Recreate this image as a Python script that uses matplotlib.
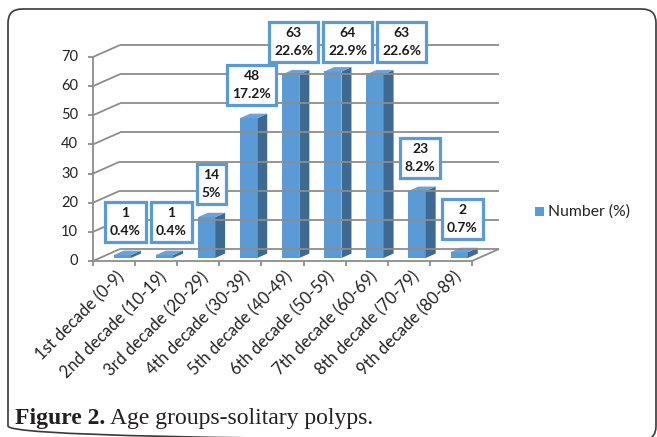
import matplotlib
matplotlib.use("Agg")
import matplotlib.pyplot as plt
from matplotlib.patches import Polygon, FancyBboxPatch, Rectangle

# data
categories = ["1st decade (0-9)", "2nd decade (10-19)", "3rd decade (20-29)",
              "4th decade (30-39)", "5th decade (40-49)", "6th decade (50-59)",
              "7th decade (60-69)", "8th decade (70-79)", "9th decade (80-89)"]
counts = [1, 1, 14, 48, 63, 64, 63, 23, 2]
percents = ["0.4%", "0.4%", "5%", "17.2%", "22.6%", "22.9%", "22.6%", "8.2%", "0.7%"]
y_ticks = [0, 10, 20, 30, 40, 50, 60, 70]

W, H = 657, 437
fig = plt.figure(figsize=(W / 100, H / 100), dpi=100)
plt.rcParams['font.family'] = ['Lato', 'DejaVu Sans']

# pixel-space axes for the frame, legend and caption
frame_ax = fig.add_axes([0, 0, 1, 1])
frame_ax.set_xlim(0, W)
frame_ax.set_ylim(H, 0)
frame_ax.axis("off")
frame_ax.add_patch(FancyBboxPatch((8, 9), 648, 431, boxstyle="round,pad=0,rounding_size=14",
                                  facecolor="none", edgecolor="#3a3a3a", linewidth=1.2))

# front plane of the pseudo 3D plot
x0, x1, ytop, ybot = 93, 472, 57, 261
ax = fig.add_axes([x0 / W, (H - ybot) / H, (x1 - x0) / W, (ybot - ytop) / H])
n = len(categories)
ax.set_xlim(0, n)
ax.set_ylim(0, 70)
ax.axis("off")

px_x = (x1 - x0) / n          # pixels per category
px_y = (ybot - ytop) / 70     # pixels per unit
DX = 27 / px_x                # depth offset in data units
DY = 12 / px_y

grid_c = "#8c8c8c"
kw = dict(color=grid_c, lw=1.3, clip_on=False, solid_capstyle="butt")
txt_c = "#222222"

for v in y_ticks:
    ax.plot([0, DX], [v, v + DY], **kw)
    ax.plot([DX, n + DX], [v + DY, v + DY], **kw)
    ax.plot([-5 / px_x, 0], [v, v], **kw)
    ax.text(-15 / px_x, v, str(v), ha="right", va="center", fontsize=10.5, color=txt_c)

# floor outline and axes
ax.plot([0, n], [0, 0], **kw)
ax.plot([n, n + DX], [0, DY], **kw)
ax.plot([0, 0], [0, 70], **kw)
for i in range(n + 1):
    ax.plot([i, i], [0, -5 / px_y], **kw)

front_c, side_c, top_c = "#5b9bd5", "#3e6a92", "#6aa3d8"
a, w, d0, dd = 0.33, 0.41, 0.25, 0.37
labels = []
for i, v in enumerate(counts):
    fx = i + a + d0 * DX
    fy = d0 * DY
    sx, sy = dd * DX, dd * DY
    ax.add_patch(Polygon([(fx, fy), (fx + w, fy), (fx + w, fy + v), (fx, fy + v)],
                         closed=True, facecolor=front_c, edgecolor="none", clip_on=False))
    ax.add_patch(Polygon([(fx + w, fy), (fx + w + sx, fy + sy), (fx + w + sx, fy + v + sy),
                          (fx + w, fy + v)],
                         closed=True, facecolor=side_c, edgecolor="none", clip_on=False))
    ax.add_patch(Polygon([(fx, fy + v), (fx + w, fy + v), (fx + w + sx, fy + v + sy),
                          (fx + sx, fy + v + sy)],
                         closed=True, facecolor=top_c, edgecolor="none", clip_on=False))
    ly = min(v + fy + 33 / px_y, 75)
    t = ax.text(fx + w / 2 + 3 / px_x, ly, f"{v}\n{percents[i]}", ha="center", va="center",
                fontsize=10, fontweight="bold", color="#1a1a1a", linespacing=1.6,
                multialignment="center",
                bbox=dict(boxstyle="square,pad=0.36", facecolor="white", edgecolor="#5b9bd5",
                          linewidth=2.3))
    labels.append(t)

# push data labels right when they would overlap the previous one
fig.canvas.draw()
renderer = fig.canvas.get_renderer()
prev = None
for t in labels:
    bb = t.get_bbox_patch().get_window_extent(renderer)
    if prev is not None and bb.y0 < prev.y1 and bb.y1 > prev.y0 and bb.x0 < prev.x1 + 5:
        shift = prev.x1 + 5 - bb.x0
        x, y = t.get_position()
        t.set_position((x + shift / px_x, y))
        fig.canvas.draw()
        bb = t.get_bbox_patch().get_window_extent(renderer)
    prev = bb

# rotated category labels
for i, lab in enumerate(categories):
    ax.text(i + 0.55, -8 / px_y, lab, rotation=45, rotation_mode="anchor",
            ha="right", va="top", fontsize=12, color=txt_c)

# legend
frame_ax.add_patch(Rectangle((535, 207), 9, 9, facecolor=front_c, edgecolor="none"))
frame_ax.text(548, 211.5, "Number (%)", ha="left", va="center", fontsize=11.3, color=txt_c)

# caption
cap = dict(fontsize=17, family="Liberation Serif", va="baseline", color="#231f20")
frame_ax.text(15, 424, "Figure 2.", fontweight="bold", **cap)
frame_ax.text(110, 424, "Age groups-solitary polyps.", **cap)

fig.savefig("out.png", dpi=100)
